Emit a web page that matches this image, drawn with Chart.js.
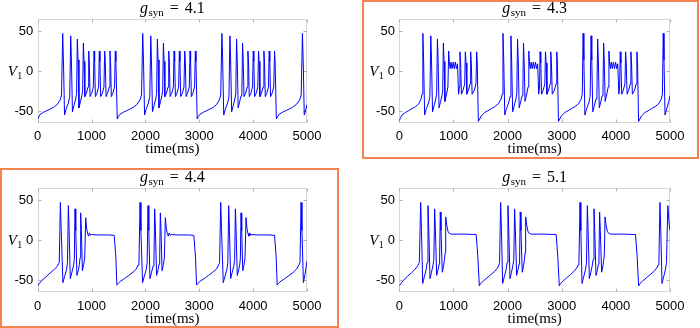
<!DOCTYPE html>
<html><head><meta charset="utf-8">
<script src="https://cdn.jsdelivr.net/npm/chart.js@4.4.1/dist/chart.umd.min.js"></script>
<style>
html,body{margin:0;padding:0;background:#fff;}
#wrap{position:relative;width:700px;height:328px;overflow:hidden;background:#fff;}
.pane{position:absolute;width:350px;height:164px;}
.pane canvas{display:block;}
.frame{position:absolute;border:2px solid #F5834F;box-sizing:border-box;pointer-events:none;}
</style></head><body>
<div id="wrap">
 <div class="pane" style="left:0;top:0"><canvas id="c0" width="350" height="164"></canvas></div>
 <div class="pane" style="left:350px;top:0"><canvas id="c1" width="350" height="164"></canvas></div>
 <div class="pane" style="left:0;top:164px"><canvas id="c2" width="350" height="164"></canvas></div>
 <div class="pane" style="left:350px;top:164px"><canvas id="c3" width="350" height="164"></canvas></div>
 <div class="frame" style="left:362px;top:0;width:337px;height:159px"></div>
 <div class="frame" style="left:0;top:168px;width:339px;height:160px"></div>
</div>
<script>
// ---- tick labels ----
const xTicks = [0, 1000, 2000, 3000, 4000, 5000];
const yTicks = [-50, 0, 50];
const gsynValues = ['4.1', '4.3', '4.4', '5.1'];

// ---- V1 traces [time(ms), V1] ----
const traceG41 = [
 [0,-60],[25,-57],[49,-54],[110,-51.5],[172,-49.6],[235,-47.5],[297,-45.4],[360,-42],[420,-36],[442,-30],
 [464,47],[478,14],[498,-55],[530,-47],[570,-40],[595,-32],
 [613,44],[626,14],[645,-51],[675,-43],[705,-35],[722,-28],
 [736,40],[749,14],[766,-46],[795,-38],[820,-31],[835,-24],
 [848,35],[860,12],[875,-32],[904,-28],[934,-20],
 [947,25],[958,12],[972,-32],[1001,-28],[1033,-20],
 [1046,25],[1057,12],[1071,-32],[1099,-28],[1131,-20],
 [1144,25],[1155,12],[1169,-32],[1198,-28],[1230,-20],
 [1244,25],[1255,12],[1269,-32],[1296,-28],[1328,-20],
 [1342,25],[1353,12],[1367,-32],[1395,-28],[1427,-20],
 [1441,25],[1452,12],[1477,-60],
 [1500,-57],[1528,-54],[1590,-51.5],[1652,-49.6],[1715,-47.5],[1776,-45.4],[1840,-42],[1900,-36],[1928,-30],
 [1950,47],[1964,14],[1984,-55],[2016,-47],[2056,-40],[2081,-32],
 [2099,44],[2112,14],[2131,-51],[2161,-43],[2191,-35],[2208,-28],
 [2222,40],[2235,14],[2252,-46],[2281,-38],[2306,-31],[2321,-24],
 [2334,35],[2346,12],[2361,-32],[2390,-28],[2420,-20],
 [2433,25],[2444,12],[2458,-32],[2487,-28],[2519,-20],
 [2532,25],[2543,12],[2557,-32],[2585,-28],[2617,-20],
 [2630,25],[2641,12],[2655,-32],[2684,-28],[2716,-20],
 [2730,25],[2741,12],[2755,-32],[2782,-28],[2814,-20],
 [2828,25],[2839,12],[2853,-32],[2881,-28],[2913,-20],
 [2927,25],[2938,12],[2961,-60],
 [2986,-57],[3014,-54],[3076,-51.5],[3138,-49.6],[3200,-47.5],[3262,-45.4],[3320,-42],[3375,-36],[3398,-30],
 [3420,47],[3434,14],[3454,-55],[3486,-47],[3526,-40],[3551,-32],
 [3569,44],[3582,14],[3601,-51],[3631,-43],[3661,-35],[3678,-28],
 [3692,40],[3705,14],[3722,-46],[3751,-38],[3776,-31],[3791,-24],
 [3804,35],[3816,12],[3831,-32],[3860,-28],[3890,-20],
 [3903,25],[3914,12],[3928,-32],[3957,-28],[3989,-20],
 [4002,25],[4013,12],[4027,-32],[4055,-28],[4087,-20],
 [4100,25],[4111,12],[4125,-32],[4154,-28],[4186,-20],
 [4200,25],[4211,12],[4225,-32],[4252,-28],[4284,-20],
 [4298,25],[4309,12],[4323,-32],[4351,-28],[4383,-20],
 [4397,25],[4408,12],[4431,-60],
 [4456,-57],[4484,-54],[4546,-51.5],[4608,-49.6],[4670,-47.5],[4732,-45.4],[4800,-42],[4865,-36],[4892,-30],
 [4915,47],[4929,14],[4949,-55],[4978,-48],[5000,-42]
];
const traceG43 = [
 [0,-62],[25,-58],[50,-55],[110,-52],[175,-49.5],[235,-47],[300,-44.5],[360,-41],[400,-35],[420,-29],
 [435,47],[449,14],[468,-55],[500,-47],[540,-40],[565,-32],
 [582,44],[595,14],[614,-51],[644,-43],[674,-35],[690,-28],
 [704,40],[717,14],[734,-46],[763,-38],[788,-31],[802,-24],
 [814,35],[826,12],[842,-38],[870,-30],[898,-20],
 [912,25],[925,10],[940,3],[955,11],[975,3],[995,11],[1015,3],[1035,11],[1055,3],[1075,9],[1095,-29],[1110,-20],
 [1121,24],[1133,10],[1148,-29],[1178,-24],[1208,-16],
 [1220,24],[1232,10],[1247,-29],[1277,-24],[1306,-16],
 [1318,24],[1330,10],[1345,-29],[1385,-24],[1416,-16],
 [1429,24],[1440,10],[1460,-63],
 [1485,-60],[1515,-56],[1575,-52],[1640,-49.5],[1700,-47],[1765,-44.5],[1830,-41],[1880,-35],[1900,-29],
 [1915,47],[1929,14],[1948,-55],[1980,-47],[2020,-40],[2045,-32],
 [2062,44],[2075,14],[2094,-51],[2124,-43],[2154,-35],[2170,-28],
 [2184,40],[2197,14],[2214,-46],[2243,-38],[2268,-31],[2282,-24],
 [2294,35],[2306,12],[2322,-38],[2350,-30],[2378,-20],
 [2392,25],[2405,10],[2420,3],[2435,11],[2455,3],[2475,11],[2495,3],[2515,11],[2535,3],[2555,9],[2575,-29],[2590,-20],
 [2601,24],[2613,10],[2628,-29],[2658,-24],[2688,-16],
 [2700,24],[2712,10],[2727,-29],[2757,-24],[2786,-16],
 [2798,24],[2810,10],[2825,-29],[2865,-24],[2896,-16],
 [2909,24],[2920,10],[2940,-63],
 [2965,-60],[2995,-56],[3055,-52],[3120,-49.5],[3180,-47],[3245,-44.5],[3310,-41],[3360,-35],[3380,-29],
 [3395,47],[3409,14],[3428,-55],[3460,-47],[3500,-40],[3525,-32],
 [3542,44],[3555,14],[3574,-51],[3604,-43],[3634,-35],[3650,-28],
 [3664,40],[3677,14],[3694,-46],[3723,-38],[3748,-31],[3762,-24],
 [3774,35],[3786,12],[3802,-38],[3830,-30],[3858,-20],
 [3872,25],[3885,10],[3900,3],[3915,11],[3935,3],[3955,11],[3975,3],[3995,11],[4015,3],[4035,9],[4055,-29],[4070,-20],
 [4081,24],[4093,10],[4108,-29],[4138,-24],[4168,-16],
 [4180,24],[4192,10],[4207,-29],[4237,-24],[4266,-16],
 [4278,24],[4290,10],[4305,-29],[4345,-24],[4376,-16],
 [4389,24],[4400,10],[4420,-63],
 [4445,-60],[4475,-56],[4535,-52],[4600,-49.5],[4660,-47],[4725,-44.5],[4790,-41],[4840,-35],[4860,-29],
 [4875,47],[4889,14],[4908,-55],[4940,-47],[4975,-39],[5000,-31]
];
const traceG44 = [
 [0,-57],[30,-54],[80,-50],[150,-46],[230,-41],[300,-37],[360,-33],[400,-28],
 [421,47],[437,12],[468,-53],[500,-45],[535,-37],[553,-28],
 [569,43],[584,12],[605,-48],[635,-40],[665,-32],[680,-24],
 [693,39],[707,12],[728,-44],[755,-37],[775,-30],[786,-22],
 [798,34],[811,12],[830,-38],[855,-30],[873,-22],
 [891,28],[910,14],[928,8],[945,5],[962,9],[980,6],[1000,7],[1100,6.5],[1300,6.5],[1420,6],
 [1450,-20],[1470,-56],
 [1495,-54],[1540,-51],[1610,-48],[1690,-44],[1770,-40],[1830,-36],[1865,-31],[1880,-28],
 [1900,47],[1916,12],[1947,-53],[1979,-45],[2014,-37],[2032,-28],
 [2048,43],[2063,12],[2084,-48],[2114,-40],[2144,-32],[2159,-24],
 [2172,39],[2186,12],[2207,-44],[2234,-37],[2254,-30],[2265,-22],
 [2277,34],[2290,12],[2309,-38],[2334,-30],[2352,-22],
 [2370,28],[2389,14],[2407,8],[2424,5],[2441,9],[2459,6],[2479,7],[2579,6.5],[2779,6.5],[2899,6],
 [2929,-20],[2949,-56],
 [2974,-54],[3020,-51],[3090,-48],[3170,-44],[3250,-40],[3320,-36],[3360,-31],[3377,-28],
 [3398,47],[3414,12],[3445,-53],[3477,-45],[3512,-37],[3530,-28],
 [3546,43],[3561,12],[3582,-48],[3612,-40],[3642,-32],[3657,-24],
 [3670,39],[3684,12],[3705,-44],[3732,-37],[3752,-30],[3763,-22],
 [3775,34],[3788,12],[3807,-38],[3832,-30],[3850,-22],
 [3868,28],[3887,14],[3905,8],[3922,5],[3939,9],[3957,6],[3977,7],[4077,6.5],[4277,6.5],[4397,6],
 [4427,-20],[4447,-56],
 [4472,-54],[4517,-51],[4587,-48],[4667,-44],[4747,-40],[4807,-36],[4850,-31],[4870,-28],
 [4890,47],[4906,12],[4933,-53],[4965,-42],[5000,-26]
];
const traceG51 = [
 [0,-57],[30,-54],[80,-50],[150,-45],[220,-41],[280,-37],[330,-33],[370,-28],
 [395,47],[410,12],[432,-54],[465,-45],[495,-37],[515,-28],
 [530,43],[545,12],[567,-48],[595,-40],[620,-32],[638,-24],
 [653,39],[667,12],[690,-44],[715,-37],[735,-30],[745,-22],
 [757,35],[770,12],[794,-40],[818,-32],[835,-24],[845,-16],
 [857,29],[875,19],[900,11],[924,8.5],[960,7.5],[1200,7.5],[1420,7],
 [1450,-20],[1478,-57],
 [1503,-54],[1550,-51],[1620,-47],[1690,-43],[1760,-39],[1810,-35],[1840,-31],[1852,-28],
 [1872,47],[1887,12],[1909,-54],[1942,-45],[1972,-37],[1992,-28],
 [2007,43],[2022,12],[2044,-48],[2072,-40],[2097,-32],[2115,-24],
 [2130,39],[2144,12],[2167,-44],[2192,-37],[2212,-30],[2222,-22],
 [2234,35],[2247,12],[2271,-40],[2295,-32],[2312,-24],[2322,-16],
 [2334,29],[2352,19],[2377,11],[2401,8.5],[2437,7.5],[2677,7.5],[2897,7],
 [2927,-20],[2955,-57],
 [2980,-54],[3025,-51],[3090,-47],[3160,-43],[3225,-39],[3275,-35],[3305,-31],[3318,-28],
 [3338,47],[3353,12],[3375,-54],[3408,-45],[3438,-37],[3458,-28],
 [3473,43],[3488,12],[3510,-48],[3538,-40],[3563,-32],[3581,-24],
 [3596,39],[3610,12],[3633,-44],[3658,-37],[3678,-30],[3688,-22],
 [3700,35],[3713,12],[3737,-40],[3761,-32],[3778,-24],[3788,-16],
 [3800,29],[3818,19],[3843,11],[3867,8.5],[3903,7.5],[4143,7.5],[4363,7],
 [4393,-20],[4421,-57],
 [4446,-54],[4493,-51],[4563,-47],[4633,-43],[4703,-39],[4753,-35],[4783,-31],[4795,-28],
 [4815,47],[4830,12],[4852,-54],[4885,-45],[4915,-37],[4935,-28],
 [4960,43],[4985,20],[5000,12]
];

const boxTicks = {
  id: 'boxTicks',
  beforeDatasetsDraw(chart) {
    const ctx = chart.ctx, ca = chart.chartArea, xs = chart.scales.x, ys = chart.scales.y;
    const L = Math.round(ca.left) + 0.5, R = Math.round(ca.right) - 0.5;
    const T = Math.round(ca.top) + 0.5, B = Math.round(ca.bottom) - 0.5;
    ctx.save();
    ctx.lineWidth = 1;
    ctx.strokeStyle = '#d6d6d6';
    ctx.strokeRect(L, T, R - L, B - T);
    ctx.strokeStyle = '#b0b0b0';
    ctx.beginPath();
    xTicks.forEach(v => {
      const px = Math.round(xs.getPixelForValue(v)) + 0.5;
      ctx.moveTo(px, B); ctx.lineTo(px, B - 3);
      ctx.moveTo(px, T); ctx.lineTo(px, T + 3);
    });
    yTicks.forEach(v => {
      const py = Math.round(ys.getPixelForValue(v)) + 0.5;
      ctx.moveTo(L, py); ctx.lineTo(L + 3, py);
      ctx.moveTo(R, py); ctx.lineTo(R - 3, py);
    });
    ctx.stroke();
    ctx.restore();
  }
};

const mathText = {
  id: 'mathText',
  afterDraw(chart) {
    const o = chart.options.plugins.mathText;
    const ctx = chart.ctx, ca = chart.chartArea;
    ctx.save();
    ctx.fillStyle = '#000';
    ctx.textBaseline = 'alphabetic';
    ctx.textAlign = 'left';
    const fMain = '16px "Liberation Serif"';
    const fIt = 'italic 16px "Liberation Serif"';
    const fSub = '11px "Liberation Serif"';
    ctx.font = fIt; const wg = ctx.measureText('g').width;
    ctx.font = fSub; const ws = ctx.measureText('syn').width;
    ctx.font = fMain; const weq = ctx.measureText('=').width; const wv = ctx.measureText(o.value).width;
    const gap = 6;
    const total = wg + 0.5 + ws + gap + weq + gap + wv;
    let x = (ca.left + ca.right) / 2 - total / 2;
    const yb = ca.top - 6;
    ctx.font = fIt; ctx.fillText('g', x, yb); x += wg + 0.5;
    ctx.font = fSub; ctx.fillText('syn', x, yb + 3); x += ws + gap;
    ctx.font = fMain; ctx.fillText('=', x, yb); x += weq + gap;
    ctx.fillText(o.value, x, yb);
    const y0 = chart.scales.y.getPixelForValue(0);
    ctx.font = 'italic 15px "Liberation Serif"';
    const vx = ca.left - 30;
    ctx.fillText('V', vx, y0 + 4.5);
    const wV = ctx.measureText('V').width;
    ctx.font = '10px "Liberation Serif"';
    ctx.fillText('1', vx + wV + 0.3, y0 + 7.5);
    ctx.restore();
  }
};

function makeChart(id, trace, gval, area, titlePadBottom) {
  const W = 350, H = 164;
  return new Chart(document.getElementById(id), {
    type: 'line',
    data: { datasets: [{
      data: trace.map(p => ({ x: p[0], y: p[1] })),
      borderColor: '#0000ff', borderWidth: 1, pointRadius: 0, tension: 0, fill: false
    }]},
    options: {
      responsive: false, animation: false, devicePixelRatio: 1, parsing: false,
      layout: { padding: { left: 0, right: W - area.right, top: area.top, bottom: 0 } },
      plugins: { legend: { display: false }, tooltip: { enabled: false }, title: { display: false },
                 mathText: { value: gval } },
      scales: {
        x: {
          type: 'linear', min: 0, max: 5000,
          afterBuildTicks: s => { s.ticks = xTicks.map(v => ({ value: v })); },
          afterFit: s => { s.height = H - area.bottom; },
          grid: { display: false, drawTicks: false, tickLength: 0 }, border: { display: false },
          ticks: { padding: 6, color: '#000', maxRotation: 0, autoSkip: false,
                   font: { family: 'Liberation Sans', size: 13 }, callback: v => String(v) },
          title: { display: true, text: 'time(ms)', color: '#000',
                   font: { family: 'Liberation Serif', size: 15 }, padding: { top: 0, bottom: titlePadBottom } }
        },
        y: {
          type: 'linear', min: -65, max: 65,
          afterBuildTicks: s => { s.ticks = yTicks.map(v => ({ value: v })); },
          afterFit: s => { s.width = area.left; },
          grid: { display: false, drawTicks: false, tickLength: 0 }, border: { display: false },
          ticks: { padding: 4.4, color: '#000', font: { family: 'Liberation Sans', size: 13 },
                   callback: v => String(v) }
        }
      }
    },
    plugins: [boxTicks, mathText]
  });
}

makeChart('c0', traceG41, gsynValues[0], { left: 37.7, right: 307, top: 19, bottom: 123 }, 5.5);
makeChart('c1', traceG43, gsynValues[1], { left: 49.3, right: 320, top: 19, bottom: 123 }, 5.5);
makeChart('c2', traceG44, gsynValues[2], { left: 37.7, right: 307, top: 24, bottom: 128.3 }, 0.2);
makeChart('c3', traceG51, gsynValues[3], { left: 49.3, right: 320, top: 24, bottom: 128.3 }, 0.2);
</script>
</body></html>
